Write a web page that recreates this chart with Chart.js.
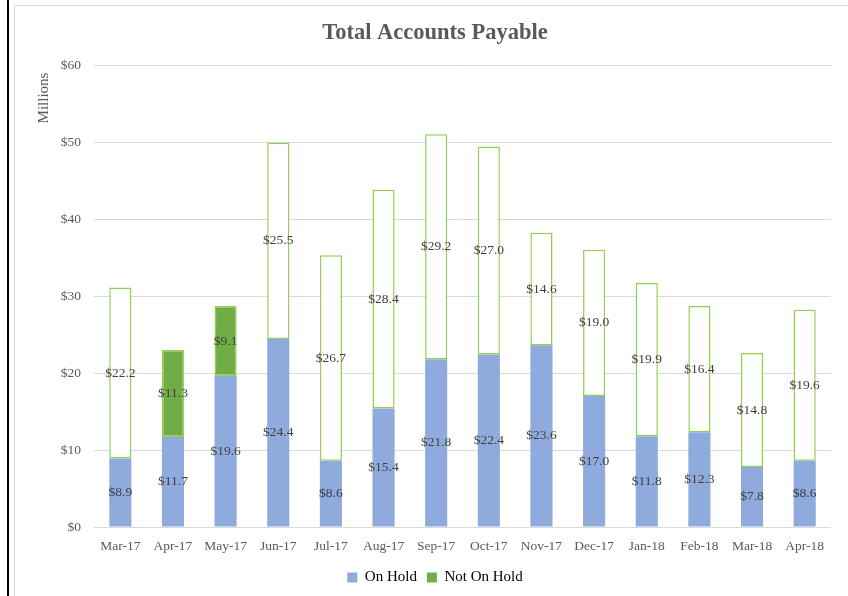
<!DOCTYPE html>
<html>
<head>
<meta charset="utf-8">
<script src="https://cdn.jsdelivr.net/npm/chart.js@4/dist/chart.umd.min.js"></script>
<style>
  html, body { margin: 0; padding: 0; background: #fff; }
  #wrap { position: relative; width: 848px; height: 596px; overflow: hidden; }
  #blackline { position: absolute; left: 7px; top: 0; width: 2px; height: 596px; background: #000; }
  #frame { position: absolute; left: 14px; top: 5px; width: 840px; height: 600px;
           border-left: 1px solid #d9d9d9; border-top: 1px solid #d9d9d9; }
  canvas { position: absolute; left: 0; top: 0; }
</style>
</head>
<body>
<div id="wrap">
  <div id="blackline"></div>
  <div id="frame"></div>
  <canvas id="myChart" width="848" height="596"></canvas>
</div>
<script>
var months = ["Mar-17", "Apr-17", "May-17", "Jun-17", "Jul-17", "Aug-17", "Sep-17",
	"Oct-17", "Nov-17", "Dec-17", "Jan-18", "Feb-18", "Mar-18", "Apr-18"];
var onHold = [8.9, 11.7, 19.6, 24.4, 8.6, 15.4, 21.8, 22.4, 23.6, 17.0, 11.8, 12.3, 7.8, 8.6];
var notOnHold = [22.2, 11.3, 9.1, 25.5, 26.7, 28.4, 29.2, 27.0, 14.6, 19.0, 19.9, 16.4, 14.8, 19.6];
// only Apr-17 and May-17 are filled in the original
var filledMonths = ["Apr-17", "May-17"];

var serif = "'Liberation Serif', 'DejaVu Serif', serif";
var blue = "#8faadc";
var green = "#70ad47";
var lightGreen = "#92d050";

var notOnHoldFill = months.map((m) => {
	return filledMonths.indexOf(m) >= 0 ? green : "#ffffff";
});

// draws "$x.x" in the middle of each segment
var segmentLabels = {
	id: "segmentLabels",
	afterDatasetsDraw(chart) {
		var ctx = chart.ctx;
		ctx.save();
		ctx.font = "13.5px " + serif;
		ctx.fillStyle = "#404040";
		ctx.textAlign = "center";
		ctx.textBaseline = "middle";
		chart.data.datasets.forEach((ds, i) => {
			chart.getDatasetMeta(i).data.forEach((bar, j) => {
				var y = (bar.y + bar.base) / 2;
				ctx.fillText("$" + ds.data[j].toFixed(1), bar.x, y);
			});
		});
		ctx.restore();
	}
};

// axis title sits at the top of the axis, not the middle
var axisTitle = {
	id: "axisTitle",
	afterDraw(chart) {
		var ctx = chart.ctx;
		ctx.save();
		ctx.translate(44, chart.chartArea.top + 33);
		ctx.rotate(-Math.PI / 2);
		ctx.font = "15px " + serif;
		ctx.fillStyle = "#595959";
		ctx.textAlign = "center";
		ctx.textBaseline = "middle";
		ctx.fillText("Millions", 0, 0);
		ctx.restore();
	}
};

var ctx = document.getElementById("myChart").getContext("2d");
var myChart = new Chart(ctx, {
	type: "bar",
	data: {
		labels: months,
		datasets: [{
			label: "On Hold",
			data: onHold,
			backgroundColor: blue,
			borderWidth: 0
		}, {
			label: "Not On Hold",
			data: notOnHold,
			backgroundColor: notOnHoldFill,
			borderColor: lightGreen,
			borderWidth: 1.5,
			borderSkipped: false
		}]
	},
	options: {
		responsive: false,
		animation: false,
		layout: {
			padding: { left: 39, right: 17, top: 4, bottom: 1 }
		},
		datasets: {
			bar: { categoryPercentage: 1, barPercentage: 0.42 }
		},
		scales: {
			x: {
				stacked: true,
				afterFit(scale) { scale.height = 33; },
				grid: { display: false, drawTicks: false },
				border: { display: false },
				ticks: {
					color: "#595959",
					font: { family: serif, size: 13.5 },
					padding: 11,
					maxRotation: 0
				}
			},
			y: {
				stacked: true,
				min: 0,
				max: 60,
				afterFit(scale) { scale.width = 55; },
				grid: { color: "#d9d9d9", drawTicks: false },
				border: { display: false },
				ticks: {
					stepSize: 10,
					color: "#595959",
					padding: 13,
					font: { family: serif, size: 13.5 },
					callback: (v) => "$" + v
				}
			}
		},
		plugins: {
			title: {
				display: true,
				text: "Total Accounts Payable",
				color: "#595959",
				font: { family: serif, size: 22.5, weight: "bold" },
				padding: { top: 16, bottom: 18 }
			},
			legend: {
				position: "bottom",
				labels: {
					color: "#595959",
					font: { family: serif, size: 15 },
					boxWidth: 10,
					boxHeight: 10,
					padding: 10,
					generateLabels(chart) {
						return [
							{ text: "On Hold", fillStyle: blue, strokeStyle: blue, lineWidth: 0, datasetIndex: 0 },
							{ text: "Not On Hold", fillStyle: green, strokeStyle: green, lineWidth: 0, datasetIndex: 1 }
						];
					}
				}
			},
			tooltip: { enabled: false }
		}
	},
	plugins: [segmentLabels, axisTitle]
});
</script>
</body>
</html>
